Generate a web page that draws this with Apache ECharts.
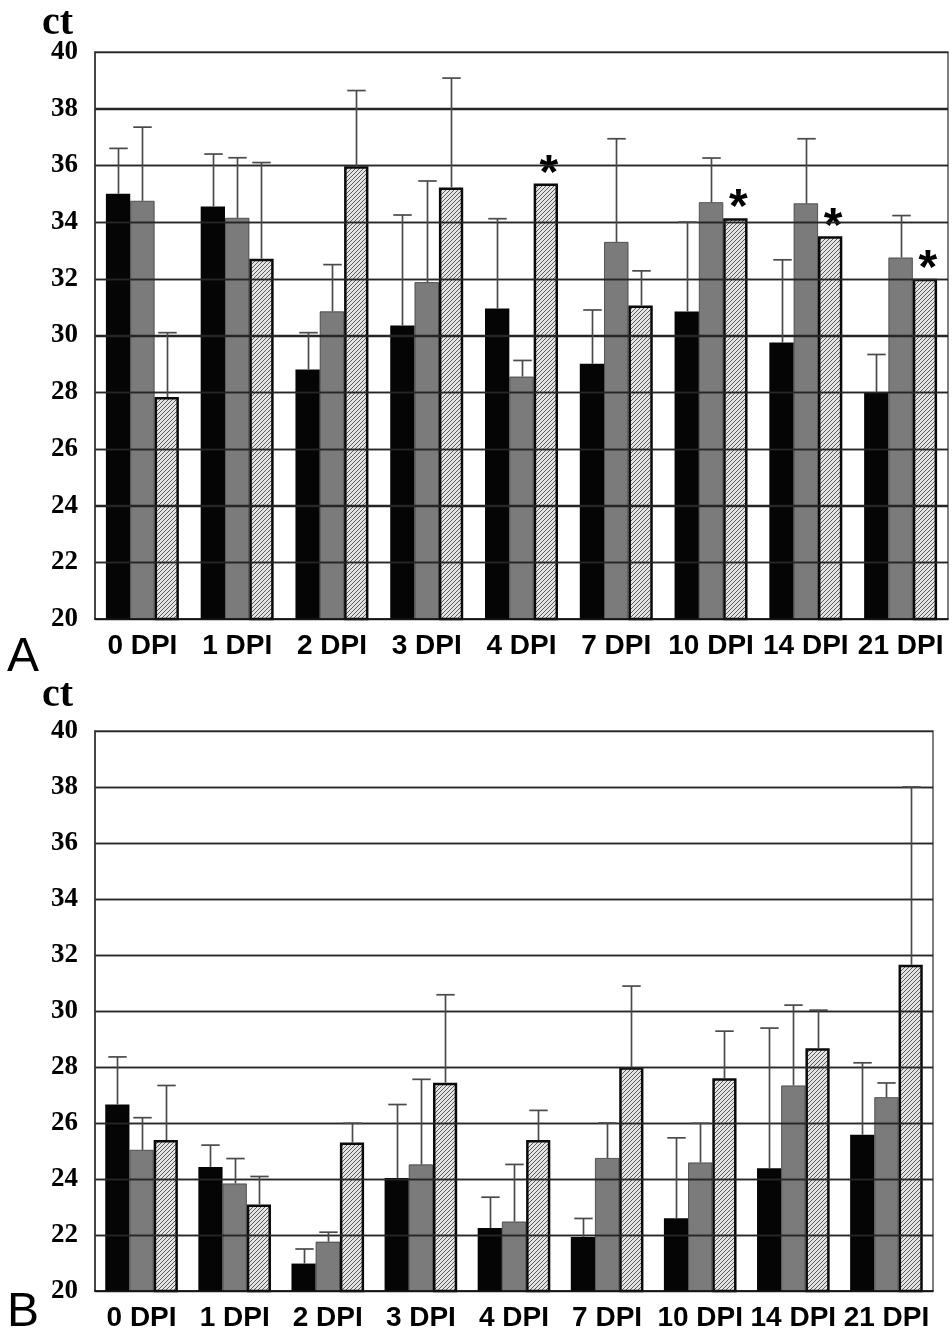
<!DOCTYPE html>
<html>
<head>
<meta charset="utf-8">
<script src="https://cdn.jsdelivr.net/npm/echarts@6/dist/echarts.min.js"></script>
<style>
  html, body { margin: 0; padding: 0; background: #fff; }
  #app { width: 952px; height: 1332px; }
</style>
</head>
<body>
<div id="app"></div>
<script>
    'use strict';

    var categories = ['0 DPI', '1 DPI', '2 DPI', '3 DPI', '4 DPI', '7 DPI', '10 DPI', '14 DPI', '21 DPI'];
    var yTicks = [20, 40, 2];

    // panel A
    var aBlack = [35.0, 34.55, 28.8, 30.35, 30.95, 29.0, 30.85, 29.75, 28.0];
    var aBlackErr = [36.6, 36.4, 30.1, 34.25, 34.12, 30.9, 34.0, 32.67, 29.33];
    var aGray = [34.75, 34.15, 30.85, 31.88, 28.55, 33.3, 34.7, 34.66, 32.75];
    var aGrayErr = [37.35, 36.27, 32.5, 35.45, 29.12, 36.94, 36.26, 36.94, 34.23];
    var aHatch = [27.83, 32.71, 35.97, 35.22, 35.36, 31.06, 34.14, 33.5, 32.0];
    var aHatchErr = [30.1, 36.1, 38.64, 39.08, null, 32.28, null, null, null];
    var aStar = [false, false, false, false, true, false, true, true, true];

    // panel B
    var bBlack = [26.66, 24.43, 20.98, 24.04, 22.25, 21.93, 22.6, 24.38, 25.58];
    var bBlackErr = [28.36, 25.21, 21.5, 26.66, 23.35, 22.59, 25.47, 29.39, 28.15];
    var bGray = [25.04, 23.84, 21.76, 24.52, 22.48, 24.75, 24.59, 27.34, 26.92];
    var bGrayErr = [26.19, 24.73, 22.1, 27.56, 24.52, 26.0, 25.99, 30.21, 27.43];
    var bHatch = [25.39, 23.09, 25.3, 27.44, 25.39, 27.99, 27.6, 28.67, 31.65];
    var bHatchErr = [27.34, 24.09, 25.99, 30.58, 26.45, 30.89, 29.28, 30.03, 38.0];

    var SANS = '"Liberation Sans", Arial, sans-serif';
    var SERIF = '"Liberation Serif", "Times New Roman", serif';
    var GAPS = [0.23, 0.22];

    // inner grid values, redrawn on top of the bars like the original
    var gridValues = [];
    for (var g = yTicks[0] + yTicks[2]; g < yTicks[1]; g += yTicks[2]) {
        gridValues.push([0, g]);
    }

    // diagonal hatch fill
    var hatch = document.createElement('canvas');
    hatch.width = 4;
    hatch.height = 4;
    var hc = hatch.getContext('2d');
    hc.fillStyle = '#e4e4e4';
    hc.fillRect(0, 0, 4, 4);
    hc.strokeStyle = '#5a5a5a';
    hc.lineWidth = 1;
    hc.beginPath();
    hc.moveTo(-1, 5); hc.lineTo(5, -1);
    hc.moveTo(-1, 1); hc.lineTo(1, -1);
    hc.moveTo(3, 5); hc.lineTo(5, 3);
    hc.stroke();

    function barSeries(grid, name, values, style, stars) {
        return {
            type: 'bar',
            name: name,
            xAxisIndex: grid,
            yAxisIndex: grid,
            barGap: '0%',
            barCategoryGap: (GAPS[grid] * 100) + '%',
            z: 1,
            itemStyle: style,
            label: {
                show: false,
                position: 'top',
                distance: 0,
                formatter: '*',
                fontSize: 48,
                lineHeight: 48,
                fontWeight: 'bold',
                fontFamily: SANS,
                color: '#000',
                offset: [3, 15]
            },
            data: values.map(function (v, i) {
                if (stars && stars[i]) {
                    return {value: v, label: {show: true}};
                }
                return v;
            })
        };
    }

    function gridSeries(grid) {
        return {
            type: 'custom',
            xAxisIndex: grid,
            yAxisIndex: grid,
            z: 8,
            silent: true,
            data: gridValues,
            renderItem: function (params, api) {
                var cs = params.coordSys;
                var y = Math.round(api.coord([0, api.value(1)])[1]) + 0.5;
                return {
                    type: 'line',
                    shape: {x1: cs.x, y1: y, x2: cs.x + cs.width, y2: y},
                    style: {stroke: '#262626', lineWidth: 1.4}
                };
            }
        };
    }

    function errSeries(grid, k, values, tops) {
        var data = [];
        values.forEach(function (v, i) {
            if (tops[i] != null) {
                data.push([i, tops[i], v]);
            }
        });
        return {
            type: 'custom',
            xAxisIndex: grid,
            yAxisIndex: grid,
            z: 12,
            silent: true,
            data: data,
            renderItem: function (params, api) {
                var band = api.size([1, 0])[0];
                var used = band * (1 - GAPS[grid]);
                var bw = used / 3;
                var c = api.coord([api.value(0), api.value(2)]);
                var t = api.coord([api.value(0), api.value(1)]);
                var x = Math.round(c[0] - used / 2 + bw * (k + 0.5)) + 0.5;
                var cap = bw * 0.38;
                var st = {stroke: '#4a4a4a', lineWidth: 1.7};
                return {
                    type: 'group',
                    children: [
                        {type: 'line', shape: {x1: x, y1: c[1], x2: x, y2: t[1]}, style: st},
                        {type: 'line', shape: {x1: x - cap, y1: t[1], x2: x + cap, y2: t[1]}, style: st}
                    ]
                };
            }
        };
    }

    var blackStyle = {color: '#050505'};
    var grayStyle = {color: '#7b7b7b', borderColor: '#3a3a3a', borderWidth: 0.8};
    var hatchStyle = {color: {image: hatch, repeat: 'repeat'}, borderColor: '#0a0a0a', borderWidth: 2.5};

    function xAxis(grid) {
        return {
            type: 'category',
            gridIndex: grid,
            data: categories,
            z: 10,
            axisLine: {lineStyle: {color: '#111', width: 1.5}},
            axisTick: {inside: true, length: 10, lineStyle: {color: '#666', width: 1.5}},
            axisLabel: {
                interval: 0, margin: 13, color: '#000',
                fontSize: 28, fontWeight: 'bold', fontFamily: SANS
            }
        };
    }

    function yAxis(grid) {
        return {
            type: 'value',
            gridIndex: grid,
            min: yTicks[0],
            max: yTicks[1],
            interval: yTicks[2],
            z: 10,
            axisLine: {show: true, lineStyle: {color: '#333', width: 1.5}},
            axisTick: {show: false},
            splitLine: {lineStyle: {color: '#262626', width: 1.4}},
            axisLabel: {
                margin: 17, color: '#000',
                fontSize: 27, fontWeight: 'bold', fontFamily: SERIF
            }
        };
    }

    function letter(text, left, top, size, weight, family) {
        return {
            type: 'text',
            left: left,
            top: top,
            style: {text: text, fontSize: size, fontWeight: weight, fontFamily: family, fill: '#000'}
        };
    }

    var option = {
        animation: false,
        backgroundColor: '#fff',
        grid: [
            {left: 95, top: 52, width: 853, height: 567, show: true, borderColor: '#555', borderWidth: 1.5},
            {left: 95, top: 731, width: 838, height: 560, show: true, borderColor: '#555', borderWidth: 1.5}
        ],
        xAxis: [xAxis(0), xAxis(1)],
        yAxis: [yAxis(0), yAxis(1)],
        graphic: [
            letter('ct', 42, 4, 40, 'bold', SERIF),
            letter('A', 7, 634, 48, 'normal', SANS),
            letter('ct', 42, 676, 40, 'bold', SERIF),
            letter('B', 7, 1289, 48, 'normal', SANS)
        ],
        series: [
            barSeries(0, 'black', aBlack, blackStyle),
            barSeries(0, 'gray', aGray, grayStyle),
            barSeries(0, 'hatch', aHatch, hatchStyle, aStar),
            gridSeries(0),
            errSeries(0, 0, aBlack, aBlackErr),
            errSeries(0, 1, aGray, aGrayErr),
            errSeries(0, 2, aHatch, aHatchErr),
            barSeries(1, 'black', bBlack, blackStyle),
            barSeries(1, 'gray', bGray, grayStyle),
            barSeries(1, 'hatch', bHatch, hatchStyle),
            gridSeries(1),
            errSeries(1, 0, bBlack, bBlackErr),
            errSeries(1, 1, bGray, bGrayErr),
            errSeries(1, 2, bHatch, bHatchErr)
        ]
    };

    var myChart = echarts.init(document.getElementById('app'));
    myChart.setOption(option);
</script>
</body>
</html>
